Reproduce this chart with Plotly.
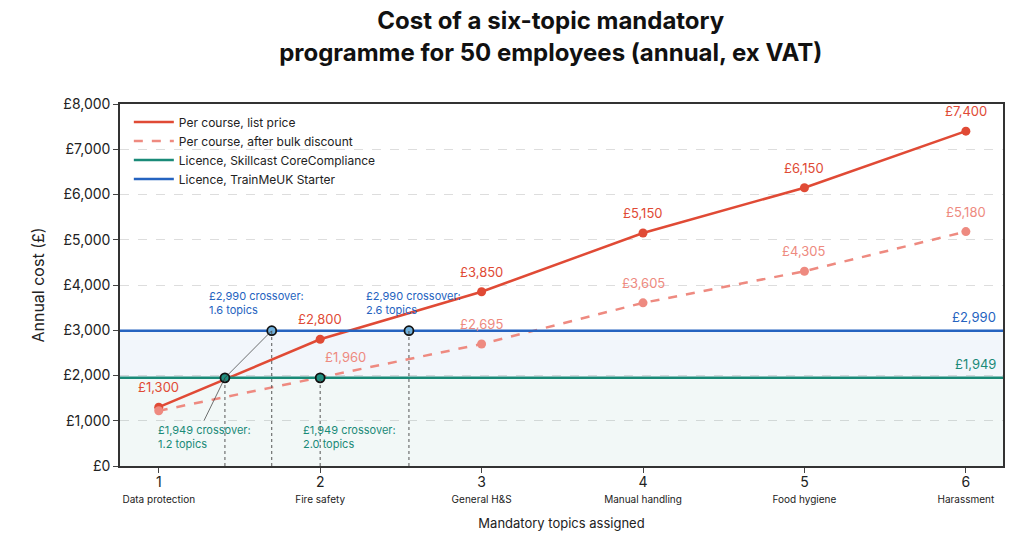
import plotly.graph_objects as go

topics = [1, 2, 3, 4, 5, 6]
topic_names = ["Data protection", "Fire safety", "General H&S", "Manual handling", "Food hygiene", "Harassment"]
list_price = [1300, 2800, 3850, 5150, 6150, 7400]
bulk_price = [1220, 1960, 2695, 3605, 4305, 5180]
skillcast = 1949
trainme = 2990
# crossover markers (x as drawn, label text as shown)
cross_x = [1.41, 1.70, 2.0, 2.55]
cross_y = [1949, 2990, 1949, 2990]
cross_text = ["£1,949 crossover:<br>1.2 topics", "£2,990 crossover:<br>1.6 topics",
              "£1,949 crossover:<br>2.0 topics", "£2,990 crossover:<br>2.6 topics"]

RED = "#e04a35"
PINK = "#ee8a80"
TEAL = "#1a8a78"
BLUE = "#2563c0"
FONT = "Inter"

fig = go.Figure()
x0, x1 = 0.76, 6.23

# shaded bands
fig.add_trace(go.Scatter(x=[x0, x1], y=[skillcast, skillcast], mode="lines", line=dict(width=0),
                         fill="tozeroy", fillcolor="rgba(26,138,120,0.06)", showlegend=False, hoverinfo="skip"))
fig.add_trace(go.Scatter(x=[x0, x1], y=[trainme, trainme], mode="lines", line=dict(width=0),
                         fill="tonexty", fillcolor="rgba(37,99,192,0.06)", showlegend=False, hoverinfo="skip"))

fig.add_trace(go.Scatter(x=topics, y=list_price, mode="lines", name="Per course, list price",
                         line=dict(color=RED, width=2.5)))
fig.add_trace(go.Scatter(x=topics, y=bulk_price, mode="lines", name="Per course, after bulk discount",
                         line=dict(color=PINK, width=2.5, dash="dash")))
fig.add_trace(go.Scatter(x=[x0, x1], y=[skillcast, skillcast], mode="lines", name="Licence, Skillcast CoreCompliance",
                         line=dict(color=TEAL, width=2.5)))
fig.add_trace(go.Scatter(x=[x0, x1], y=[trainme, trainme], mode="lines", name="Licence, TrainMeUK Starter",
                         line=dict(color=BLUE, width=2.5)))
fig.add_trace(go.Scatter(x=topics, y=list_price, mode="markers", showlegend=False, marker=dict(size=9, color=RED)))
fig.add_trace(go.Scatter(x=topics, y=bulk_price, mode="markers", showlegend=False, marker=dict(size=9, color=PINK)))

# value labels
for i, v in enumerate(list_price):
    fig.add_annotation(x=topics[i], y=v, text=f"£{v:,}", showarrow=False, yshift=20,
                       font=dict(color=RED, size=13, family=FONT))
for i, v in enumerate(bulk_price):
    if i == 0:
        continue
    fig.add_annotation(x=topics[i], y=v, text=f"£{v:,}", showarrow=False, yshift=20,
                       xshift=25 if i == 1 else 0, font=dict(color=PINK, size=13, family=FONT))
fig.add_annotation(x=6.2, y=trainme, text="£2,990", showarrow=False, xanchor="right", yshift=14,
                   font=dict(color=BLUE, size=13, family=FONT))
fig.add_annotation(x=6.2, y=skillcast, text="£1,949", showarrow=False, xanchor="right", yshift=14,
                   font=dict(color=TEAL, size=13, family=FONT))

# crossover dotted drops and markers
for cx, cy in zip(cross_x, cross_y):
    fig.add_shape(type="line", x0=cx, x1=cx, y0=0, y1=cy, line=dict(color="#555", width=1, dash="dot"))
fig.add_shape(type="line", x0=cross_x[0], y0=cross_y[0], x1=1.28, y1=1000, line=dict(color="#333", width=0.7))
fig.add_shape(type="line", x0=cross_x[0], y0=cross_y[0], x1=cross_x[1], y1=cross_y[1], line=dict(color="#333", width=0.7))
fig.add_trace(go.Scatter(x=cross_x, y=cross_y, mode="markers", showlegend=False,
                         marker=dict(size=9, color=["#1f8f80", "#6fb0dd", "#1f8f80", "#6fb0dd"],
                                     line=dict(color="#111", width=1.8))))
label_pos = [(0.98, 650), (1.3, 3600), (1.88, 650), (2.27, 3600)]
for (lx, ly), cy, t in zip(label_pos, cross_y, cross_text):
    col = TEAL if cy == skillcast else BLUE
    fig.add_annotation(x=lx, y=ly, text=t, showarrow=False, xanchor="left", align="left",
                       font=dict(color=col, size=11, family=FONT))

fig.update_layout(
    title=dict(text="<b>Cost of a six-topic mandatory<br>programme for 50 employees (annual, ex VAT)</b>",
               x=0.53, xanchor="center", y=0.96, font=dict(size=24, family=FONT, color="#111")),
    width=1024, height=537,
    margin=dict(l=112, r=29, t=96, b=79),
    plot_bgcolor="white", paper_bgcolor="white",
    font=dict(family=FONT, color="#222"),
    legend=dict(x=0.01, y=0.99, xanchor="left", yanchor="top", bgcolor="rgba(255,255,255,0)",
                traceorder="normal", font=dict(size=12, family=FONT), itemwidth=40),
    xaxis=dict(range=[x0, x1], tickvals=topics,
               ticktext=[f"<span style='font-size:14px'>{t}</span><br><span style='font-size:10px'>{n}</span>"
                         for t, n in zip(topics, topic_names)],
               title=dict(text="Mandatory topics assigned", font=dict(size=13)),
               showline=True, linecolor="#333", linewidth=1.5, mirror=True, showgrid=False,
               ticks="outside", ticklen=5),
    yaxis=dict(range=[0, 8000], tickvals=list(range(0, 8001, 1000)),
               ticktext=["£0"] + [f"£{v:,}" for v in range(1000, 8001, 1000)],
               tickfont=dict(size=14), title=dict(text="Annual cost (£)", font=dict(size=16)),
               showline=True, linecolor="#333", linewidth=1.5, mirror=True,
               gridcolor="#ddd", griddash="dash", zeroline=False, ticks="outside", ticklen=5),
)

fig.write_html("out.html")
